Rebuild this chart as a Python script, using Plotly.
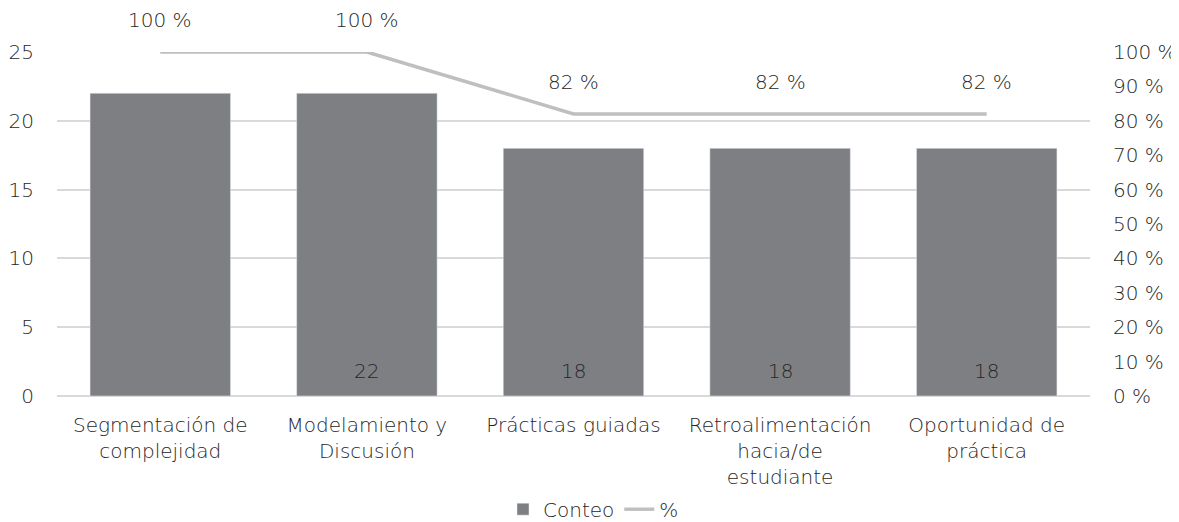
import plotly.graph_objects as go

categories = ["Segmentación de<br>complejidad", "Modelamiento y<br>Discusión", "Prácticas guiadas",
              "Retroalimentación<br>hacia/de<br>estudiante", "Oportunidad de<br>práctica"]
conteo = [22, 22, 18, 18, 18]
conteo_labels = ["", "22", "18", "18", "18"]
porcentaje = [100, 100, 82, 82, 82]
porcentaje_labels = ["100 %", "100 %", "82 %", "82 %", "82 %"]

FONT = "DejaVu Sans"
FW = 200
FS = 20
TXT = "#262626"
BAR = "#7e7f83"
LINE = "#bfbfbf"
GRID = "#d9d9d9"

fig = go.Figure()
fig.add_trace(go.Bar(x=categories, y=conteo, name="Conteo", marker_color=BAR, width=0.68,
                     yaxis="y"))
fig.add_trace(go.Scatter(x=categories, y=porcentaje, name="%", mode="lines",
                         line=dict(color=LINE, width=3.5), yaxis="y2"))

for c, t in zip(categories, conteo_labels):
    if t:
        fig.add_annotation(x=c, y=0, xref="x", yref="y", text=t, showarrow=False,
                           yanchor="bottom", yshift=11, font=dict(size=FS, color=TXT, family=FONT, weight=FW))
for c, v, t in zip(categories, porcentaje, porcentaje_labels):
    fig.add_annotation(x=c, y=v, xref="x", yref="y2", text=t, showarrow=False,
                       yanchor="middle", yshift=32, font=dict(size=FS, color=TXT, family=FONT, weight=FW))

# page body has an 8px margin, so the figure is sized/offset to compensate
fig.update_layout(
    width=1171, height=514,
    margin=dict(l=49, r=89, t=44, b=126),
    paper_bgcolor="white", plot_bgcolor="white",
    font=dict(family=FONT, size=FS, color=TXT, weight=FW),
    bargap=0.32,
    showlegend=True,
    legend=dict(orientation="h", x=0.5, xanchor="center", xref="container",
                y=0.025, yanchor="middle", yref="container",
                font=dict(size=FS, family=FONT, color=TXT, weight=FW),
                traceorder="normal"),
    xaxis=dict(showgrid=False, showline=False, ticks="", tickfont=dict(size=FS),
               ticklabelstandoff=15, automargin=False),
    yaxis=dict(range=[0, 25], dtick=5, showgrid=True, gridcolor=GRID, gridwidth=1.5,
               zeroline=True, zerolinecolor=GRID, zerolinewidth=1.5, showline=False,
               ticks="", ticklabelstandoff=22, automargin=False),
    yaxis2=dict(range=[0, 100], dtick=10, overlaying="y", side="right", showgrid=False,
                zeroline=False, showline=False, ticks="", ticksuffix=" %",
                ticklabelstandoff=22, automargin=False),
)

fig.write_html("out.html")
